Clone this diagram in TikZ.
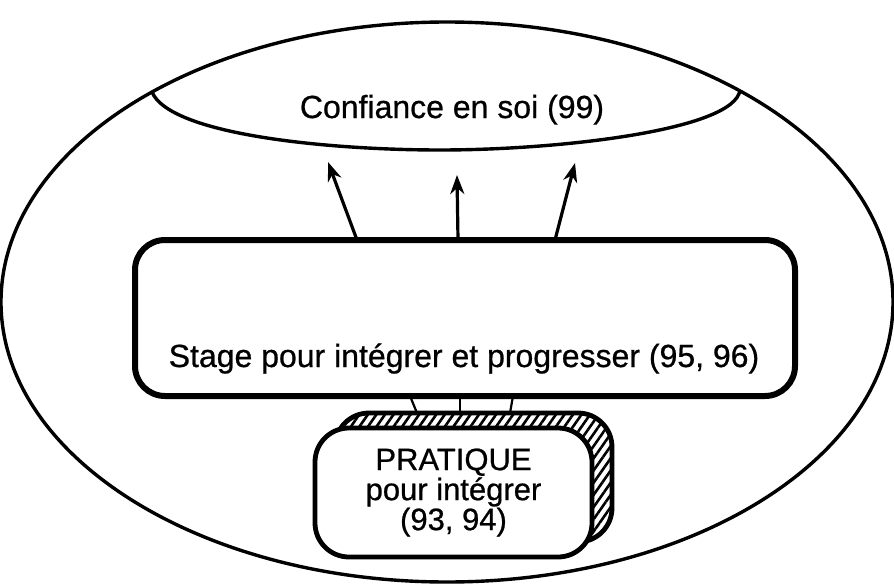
\documentclass[tikz,border=0pt]{standalone}
\usepackage{fontspec}
\setmainfont{Liberation Sans}
\newfontfamily\diagfont{Liberation Sans}[FakeBold=0.7]
\usetikzlibrary{arrows.meta,shapes.geometric,patterns.meta}

\begin{document}
\begin{tikzpicture}[x=1pt,y=-1pt,
  outline/.style={line width=3.4pt},
  bigtext/.style={font=\diagfont\fontsize{32}{36}\selectfont, inner sep=0pt},
  smalltext/.style={font=\diagfont\fontsize{31}{30}\selectfont, align=center, inner sep=0pt},
  stagebox/.style={draw, line width=6pt, rounded corners=30pt, fill=white,
    minimum width=660pt, minimum height=156pt, outer sep=0pt},
  pratbox/.style={draw, line width=4.8pt, rounded corners=34pt,
    minimum width=277pt, minimum height=129pt, outer sep=0pt},
  uparrow/.style={line width=3.2pt, -{Stealth[length=19pt,width=14pt,inset=6pt]}},
  link/.style={line width=2.2pt}]
\useasboundingbox (0,0) rectangle (894,586);

% outer ellipse
\node (outer) [ellipse, draw, outline, minimum width=892pt, minimum height=560pt,
  inner sep=0pt] at (447,302) {};

% cap of the ellipse holding the self-confidence label
\draw[outline] (152,92) .. controls (170,135) and (330,150) .. (440,150)
  .. controls (560,150) and (735,130) .. (740,90);
\node (conf) [bigtext, anchor=base] at (452,118) {Confiance en soi (99)};

% connectors from the training box to the practice box
\node (pratback) [pratbox, pattern={Lines[angle=55,distance=7pt,line width=2.6pt]}]
  at (473.5,477.5) {};
\coordinate (s1) at (410,396);
\coordinate (s2) at (460,396);
\coordinate (s3) at (513,396);
\draw[link] (s1) -- ([xshift=-56.5pt]pratback.north);
\draw[link] (s2) -- ([xshift=-13.5pt]pratback.north);
\draw[link] (s3) -- ([xshift=36.5pt]pratback.north);

% training box
\node (stage) [stagebox] at (465,318) {};
\node (stagetext) [bigtext, anchor=base] at (464,367)
  {Stage pour intégrer et progresser (95, 96)};

% arrows towards the self-confidence cap
\coordinate (t1) at (328,162);
\coordinate (t2) at (457,175);
\coordinate (t3) at (575,163);
\draw[uparrow] ([xshift=-108pt]stage.north) -- (t1);
\draw[uparrow] ([xshift=-7pt]stage.north) -- (t2);
\draw[uparrow] ([xshift=90pt]stage.north) -- (t3);

% practice box in front of its hatched relief
\node (prat) [pratbox, fill=white, smalltext] at (453.5,492.5)
  {PRATIQUE\\pour intégrer\\(93, 94)};
\end{tikzpicture}
\end{document}
